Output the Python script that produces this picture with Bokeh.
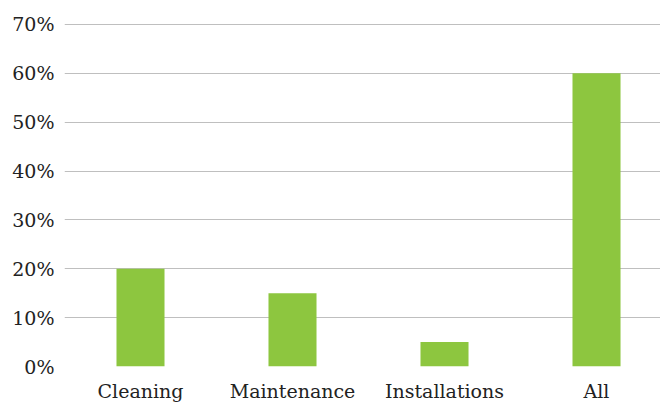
from bokeh.plotting import figure
from bokeh.models import Range1d, FixedTicker, NumeralTickFormatter, ColumnDataSource
from bokeh.embed import file_html
from bokeh.resources import INLINE

categories = ["Cleaning", "Maintenance", "Installations", "All"]
shares = [0.20, 0.15, 0.05, 0.60]
y_ticks = [0.0, 0.1, 0.2, 0.3, 0.4, 0.5, 0.6, 0.7]

xpos = [i + 0.5 for i in range(len(categories))]
src = ColumnDataSource(dict(x=xpos, top=shares, cat=categories))

FONT = "DejaVu Serif"

p = figure(
    width=660, height=406,
    frame_width=596, frame_height=343,
    x_range=Range1d(0, 3.921), y_range=Range1d(0, 0.702),
    output_backend="svg", toolbar_location=None,
    min_border_left=64, min_border_right=0, min_border_top=23, min_border_bottom=40,
)
p.outline_line_color = None
p.background_fill_color = "white"

p.vbar(x="x", top="top", width=0.316, bottom=0, source=src,
       fill_color="#8DC63F", line_color=None)

p.xgrid.visible = False
p.ygrid.ticker = FixedTicker(ticks=y_ticks)
p.ygrid.grid_line_color = "#BFBFBF"
p.ygrid.grid_line_width = 1

p.yaxis.ticker = FixedTicker(ticks=y_ticks)
p.yaxis.formatter = NumeralTickFormatter(format="0%")
p.xaxis.ticker = FixedTicker(ticks=xpos)
p.xaxis.major_label_overrides = {x: c for x, c in zip(xpos, categories)}

for ax in (p.xaxis, p.yaxis):
    ax.axis_line_color = None
    ax.major_tick_line_color = None
    ax.minor_tick_line_color = None
    ax.major_tick_out = 0
    ax.major_tick_in = 0
    ax.major_label_text_font = FONT
    ax.major_label_text_font_size = "19px"
    ax.major_label_text_color = "#222222"

p.yaxis.major_label_standoff = 10
p.xaxis.major_label_standoff = 13

open("out.html", "w").write(file_html(p, INLINE))
